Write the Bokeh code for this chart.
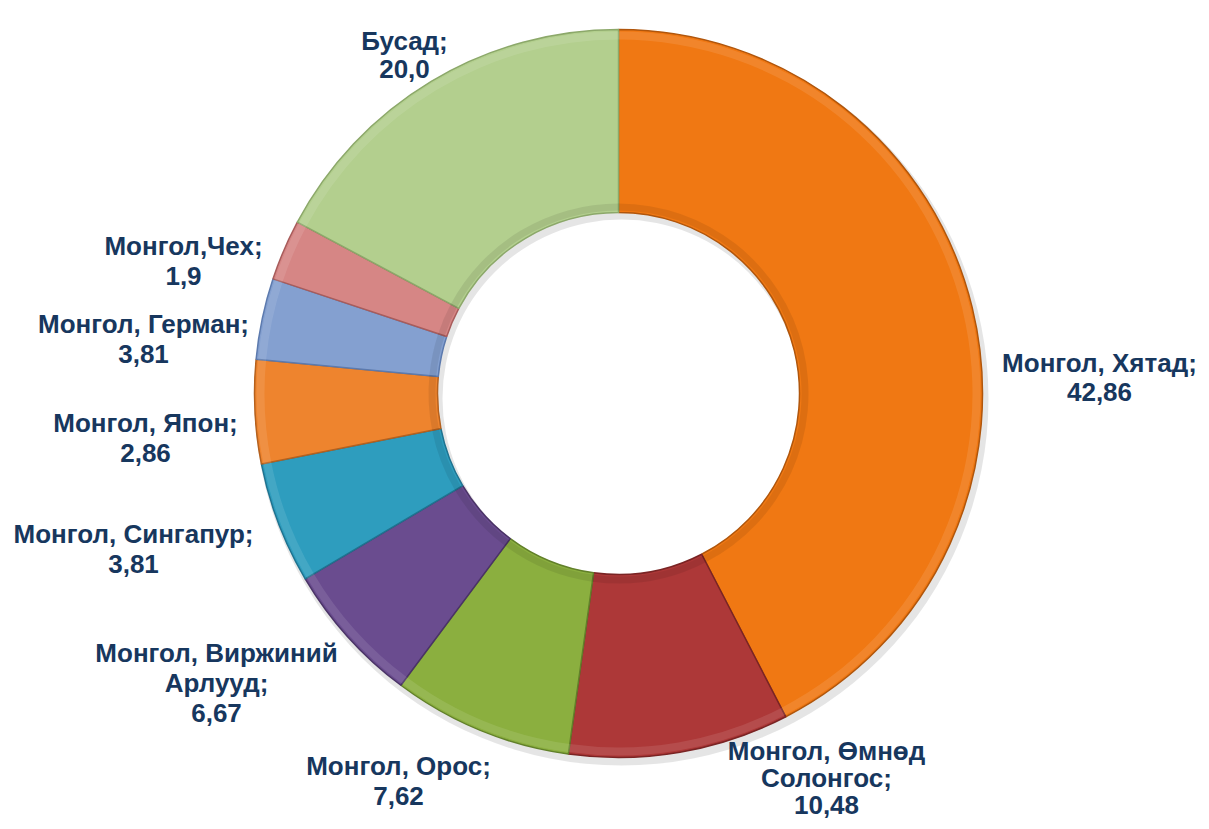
import math
from bokeh.plotting import figure
from bokeh.models import ColumnDataSource, Range1d
from bokeh.core.properties import value
from bokeh.embed import file_html
from bokeh.resources import INLINE

# ---- data -------------------------------------------------------------
categories = [
    "Монгол, Хятад",
    "Монгол, Өмнөд\nСолонгос",
    "Монгол, Орос",
    "Монгол, Виржиний\nАрлууд",
    "Монгол, Сингапур",
    "Монгол, Япон",
    "Монгол, Герман",
    "Монгол,Чех",
    "Бусад",
]
value_labels = ["42,86", "10,48", "7,62", "6,67", "3,81", "2,86", "3,81", "1,9", "20,0"]
# slice shares (percent) as drawn in the picture
slice_shares = [42.4, 9.8, 8.0, 6.3, 5.4, 4.6, 3.6, 2.7, 17.2]

# ---- style / layout ---------------------------------------------------
colors = ["#F07813", "#AD3838", "#8BAF3F", "#6A4C8F", "#2E9DBE",
          "#EE842E", "#84A0D0", "#D68685", "#B3CF8E"]
edge_colors = ["#B0560C", "#7A2424", "#62802A", "#4A3366", "#1F7390",
               "#B5611E", "#5C7AAE", "#A85C5B", "#8CA86A"]
W, H = 1201, 821
cx, cy = 618, H - 393
R_OUT, R_IN = 364, 181
FONT = "Liberation Sans"
FS = 26
TEXT_COLOR = "#17375E"
# label anchor: centre x, first baseline, line gap (picture pixels from top-left)
label_anchor = [(1099, 362, 29), (826, 750, 27), (398, 765, 30), (216, 652, 30),
                (133, 533, 30), (145, 422, 30), (143, 323, 30), (183, 245, 30),
                (404, 40, 28)]

# ---- geometry from data ------------------------------------------------
total = sum(slice_shares)
starts, ends = [], []
acc = 0.0
for s in slice_shares:
    a0 = math.pi / 2 - 2 * math.pi * acc / total
    acc += s
    a1 = math.pi / 2 - 2 * math.pi * acc / total
    starts.append(a0)
    ends.append(a1)

src = ColumnDataSource(dict(
    x=[cx] * len(categories), y=[cy] * len(categories),
    start=starts, end=ends, color=colors, edge=edge_colors,
))

p = figure(width=W, height=H, output_backend="svg", toolbar_location=None,
           x_range=Range1d(0, W), y_range=Range1d(0, H),
           min_border=0, background_fill_color="white", border_fill_color="white")
p.axis.visible = False
p.grid.visible = False
p.outline_line_color = None

# soft shadow
p.annular_wedge(x=cx + 3, y=cy - 5, inner_radius=R_IN - 2, outer_radius=R_OUT + 3,
                start_angle=0, end_angle=2 * math.pi, fill_color="#000000",
                fill_alpha=0.10, line_color=None)

p.annular_wedge(x="x", y="y", inner_radius=R_IN, outer_radius=R_OUT,
                start_angle="start", end_angle="end", direction="clock",
                fill_color="color", line_color="edge", line_width=1.5, source=src)

# bevel highlights along outer and inner edges
p.annular_wedge(x="x", y="y", inner_radius=R_OUT - 10, outer_radius=R_OUT - 2,
                start_angle="start", end_angle="end", direction="clock",
                fill_color="white", fill_alpha=0.10, line_color=None, source=src)
p.annular_wedge(x="x", y="y", inner_radius=R_IN + 2, outer_radius=R_IN + 9,
                start_angle="start", end_angle="end", direction="clock",
                fill_color="black", fill_alpha=0.08, line_color=None, source=src)

# labels
lx, ly, lt = [], [], []
for cat, val, (ax, ay, gap) in zip(categories, value_labels, label_anchor):
    lines = (cat + ";").split("\n") + [val]
    for i, ln in enumerate(lines):
        lx.append(ax)
        ly.append(H - (ay + i * gap))
        lt.append(ln)
lsrc = ColumnDataSource(dict(x=lx, y=ly, text=lt))
p.text(x="x", y="y", text="text", source=lsrc, text_font=value(FONT),
       text_font_size=f"{FS}px", text_font_style="bold", text_color=TEXT_COLOR,
       text_align="center", text_baseline="alphabetic")

open("out.html", "w").write(file_html(p, INLINE))
